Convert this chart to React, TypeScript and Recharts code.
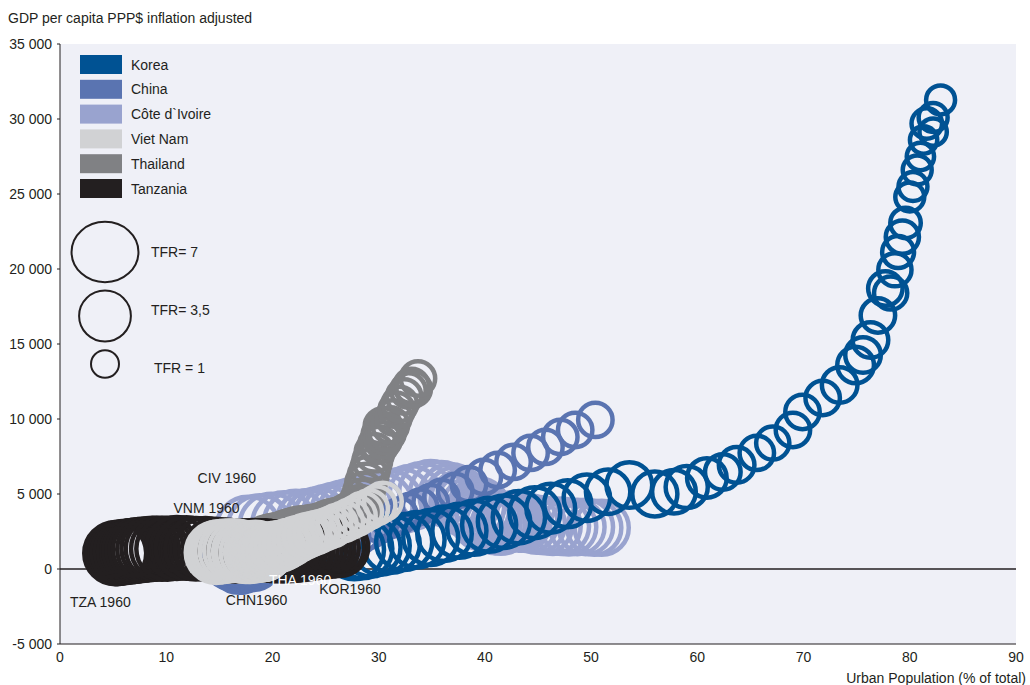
import React from 'react';
import {
  ScatterChart,
  Scatter,
  XAxis,
  YAxis,
  CartesianGrid,
  ReferenceLine,
  ReferenceDot,
} from 'recharts';

const W = 1030;
const H = 685;
const FONT = "'Liberation Sans', Arial, sans-serif";
const INK = '#231f20';
const RING = 4.5;

// legend order
const countryNames = ['Korea', 'China', 'Côte d`Ivoire', 'Viet Nam', 'Thailand', 'Tanzania'];
const countryColors = ['#005293', '#5a74b1', '#99a3cf', '#d1d2d4', '#808184', '#231f20'];
// back to front
const drawOrder = [2, 1, 0, 4, 5, 3];

// 1960 .. 2010, urban population %, GDP per capita, total fertility rate
const koreaUrban = [27.7, 28.5, 29.3, 30.2, 31.2, 32.4, 33.6, 34.9, 36.2, 37.6, 39.0, 40.4, 41.8, 43.2, 44.7, 46.2, 47.8, 49.6, 51.6, 53.6, 56.0, 57.8, 59.0, 60.9, 62.4, 63.7, 65.6, 67.1, 69.0, 69.9, 71.8, 73.4, 74.9, 75.6, 76.3, 77.0, 77.7, 78.6, 78.2, 78.9, 79.3, 79.6, 80.0, 80.3, 80.7, 81.0, 81.3, 81.6, 82.2, 82.2, 82.9];
const koreaGdp = [1300, 1350, 1450, 1550, 1650, 1800, 1950, 2100, 2350, 2550, 2750, 2950, 3150, 3450, 3750, 4050, 4350, 4750, 5150, 5600, 5000, 5150, 5470, 6070, 6470, 6940, 7740, 8400, 9270, 10470, 11400, 12270, 13600, 14270, 15270, 16900, 18700, 19950, 18400, 21130, 22130, 23070, 24800, 25500, 26600, 27500, 28600, 29700, 30100, 29130, 31270];
const koreaTfr = [6.0, 5.9, 5.7, 5.5, 5.2, 5.0, 4.8, 4.7, 4.6, 4.5, 4.5, 4.5, 4.1, 4.1, 3.8, 3.4, 3.1, 3.0, 2.7, 2.9, 2.8, 2.6, 2.4, 2.1, 1.7, 1.7, 1.6, 1.5, 1.6, 1.6, 1.6, 1.7, 1.8, 1.7, 1.7, 1.6, 1.6, 1.5, 1.5, 1.4, 1.5, 1.3, 1.2, 1.2, 1.2, 1.1, 1.1, 1.3, 1.2, 1.1, 1.2];

const chinaUrban = [16.2, 16.5, 16.8, 16.9, 17.5, 18.1, 17.9, 17.7, 17.6, 17.5, 17.4, 17.3, 17.2, 17.2, 17.3, 17.4, 17.5, 17.6, 17.9, 18.6, 19.4, 20.1, 21.1, 21.6, 22.2, 22.9, 23.6, 24.3, 25.0, 25.7, 26.4, 27.3, 28.2, 29.1, 30.1, 31.0, 32.0, 32.9, 33.9, 34.9, 35.9, 37.2, 38.5, 39.9, 41.2, 42.7, 44.3, 45.7, 47.1, 48.5, 50.4];
const chinaGdp = [600, 550, 520, 540, 580, 620, 660, 650, 630, 660, 720, 740, 760, 790, 800, 820, 810, 850, 900, 950, 1000, 1050, 1100, 1200, 1300, 1400, 1500, 1650, 1800, 1850, 1900, 2050, 2300, 2600, 2950, 3250, 3550, 3850, 4150, 4450, 4800, 5200, 5650, 6140, 6600, 7140, 7740, 8140, 8800, 9270, 9940];
const chinaTfr = [5.7, 4.0, 6.0, 7.5, 6.2, 6.4, 6.3, 5.3, 6.4, 5.8, 5.8, 5.4, 5.0, 4.5, 4.2, 3.6, 3.2, 2.8, 2.7, 2.8, 2.6, 2.6, 2.9, 2.4, 2.4, 2.6, 2.8, 2.7, 2.5, 2.4, 2.3, 2.0, 1.8, 1.7, 1.6, 1.6, 1.6, 1.6, 1.6, 1.6, 1.6, 1.6, 1.6, 1.6, 1.6, 1.6, 1.6, 1.6, 1.6, 1.6, 1.6];

const civUrban = [17.7, 18.8, 19.9, 21.1, 22.2, 23.4, 24.2, 25.0, 25.8, 26.6, 27.4, 28.3, 29.3, 30.2, 31.1, 32.1, 33.0, 34.0, 34.9, 35.9, 36.8, 37.3, 37.8, 38.3, 38.9, 39.4, 39.5, 39.5, 39.6, 39.6, 39.7, 40.1, 40.6, 41.0, 41.5, 41.9, 42.2, 42.5, 42.9, 43.2, 43.5, 44.2, 44.9, 45.6, 46.4, 47.2, 47.9, 48.7, 49.5, 50.3, 51.0];
const civGdp = [2700, 2800, 2900, 3000, 3100, 3150, 3250, 3400, 3550, 3700, 3850, 3950, 4100, 4250, 4400, 4550, 4750, 4950, 5100, 5050, 4900, 4700, 4500, 4250, 4100, 4000, 3900, 3750, 3600, 3450, 3300, 3200, 3100, 3000, 2950, 3050, 3150, 3200, 3250, 3200, 3100, 3050, 2950, 2900, 2850, 2850, 2800, 2800, 2800, 2750, 2750];
const civTfr = [7.4, 7.4, 7.4, 7.4, 7.4, 7.4, 7.4, 7.4, 7.4, 7.4, 7.4, 7.4, 7.4, 7.4, 7.3, 7.3, 7.3, 7.2, 7.2, 7.1, 7.1, 7.0, 6.9, 6.8, 6.7, 6.6, 6.5, 6.4, 6.3, 6.1, 6.0, 5.9, 5.8, 5.7, 5.6, 5.5, 5.4, 5.3, 5.2, 5.2, 5.1, 5.0, 5.0, 4.9, 4.9, 4.8, 4.7, 4.6, 4.6, 4.5, 4.5];

const vnmUrban = [14.7, 15.0, 15.3, 15.6, 16.0, 16.4, 16.8, 17.2, 17.5, 17.9, 18.3, 18.4, 18.5, 18.6, 18.7, 18.8, 18.9, 18.9, 19.0, 19.1, 19.2, 19.3, 19.4, 19.4, 19.5, 19.6, 19.7, 19.9, 20.0, 20.2, 20.3, 20.7, 21.1, 21.4, 21.8, 22.2, 22.6, 23.1, 23.5, 24.0, 24.4, 25.0, 25.6, 26.1, 26.7, 27.3, 27.9, 28.5, 29.1, 29.8, 30.4];
const vnmGdp = [1100, 1150, 1150, 1200, 1200, 1250, 1200, 1150, 1100, 1100, 1150, 1200, 1150, 1150, 1200, 1100, 1100, 1150, 1100, 1050, 1050, 1100, 1150, 1200, 1250, 1300, 1300, 1350, 1350, 1400, 1450, 1500, 1600, 1700, 1800, 1950, 2050, 2200, 2300, 2400, 2500, 2650, 2800, 3000, 3150, 3350, 3550, 3800, 4000, 4250, 4500];
const vnmTfr = [6.4, 6.4, 6.4, 6.4, 6.3, 6.2, 6.1, 6.0, 5.9, 5.8, 5.8, 5.7, 5.5, 5.4, 5.2, 5.0, 4.8, 4.6, 4.5, 4.4, 4.4, 4.3, 4.2, 4.1, 4.0, 3.9, 3.8, 3.7, 3.6, 3.5, 3.5, 3.4, 3.2, 3.1, 2.9, 2.7, 2.6, 2.5, 2.4, 2.3, 2.2, 2.1, 2.1, 2.0, 2.0, 2.0, 2.0, 2.0, 1.9, 1.9, 1.9];

const thaUrban = [19.7, 20.0, 20.3, 20.6, 20.9, 21.3, 21.6, 21.9, 22.2, 22.5, 22.9, 23.2, 23.5, 23.8, 24.1, 24.5, 24.8, 25.2, 25.6, 26.0, 26.4, 26.8, 27.1, 27.4, 27.7, 28.0, 28.2, 28.4, 28.6, 28.8, 29.0, 29.2, 29.4, 29.6, 29.9, 30.2, 30.4, 30.4, 30.1, 30.4, 30.6, 30.8, 31.1, 31.4, 31.7, 32.0, 32.4, 32.8, 33.1, 33.3, 33.7];
const thaGdp = [1500, 1550, 1600, 1650, 1700, 1800, 1900, 2000, 2050, 2150, 2200, 2250, 2300, 2400, 2450, 2500, 2650, 2800, 2950, 3050, 3150, 3300, 3450, 3600, 3800, 3950, 4150, 4600, 5100, 5700, 6200, 6700, 7200, 7750, 8300, 8900, 9500, 9200, 8300, 8600, 8900, 9100, 9600, 10100, 10600, 11000, 11500, 11900, 12200, 12000, 12700];
const thaTfr = [6.4, 6.4, 6.4, 6.3, 6.2, 6.1, 6.0, 5.8, 5.7, 5.5, 5.4, 5.1, 4.9, 4.6, 4.4, 4.1, 3.9, 3.7, 3.5, 3.3, 3.1, 2.9, 2.8, 2.6, 2.5, 2.4, 2.3, 2.2, 2.1, 2.1, 2.0, 1.9, 1.9, 1.9, 1.8, 1.8, 1.8, 1.8, 1.7, 1.7, 1.7, 1.7, 1.7, 1.6, 1.6, 1.6, 1.6, 1.6, 1.6, 1.6, 1.6];

const tzaUrban = [5.2, 5.4, 5.7, 5.9, 6.2, 6.5, 6.8, 7.0, 7.3, 7.6, 7.9, 8.3, 8.7, 9.1, 9.6, 10.1, 11.0, 11.9, 12.8, 13.7, 14.6, 15.1, 15.6, 16.0, 16.5, 17.0, 17.4, 17.8, 18.1, 18.5, 18.9, 19.3, 19.6, 20.0, 20.3, 20.7, 21.0, 21.3, 21.7, 22.0, 22.3, 22.7, 23.0, 23.4, 23.8, 24.2, 24.6, 25.0, 25.4, 25.9, 26.3];
const tzaGdp = [1050, 1050, 1100, 1100, 1150, 1150, 1200, 1200, 1250, 1250, 1300, 1300, 1350, 1350, 1350, 1350, 1400, 1400, 1350, 1350, 1300, 1250, 1250, 1200, 1200, 1200, 1200, 1200, 1250, 1250, 1250, 1250, 1200, 1200, 1150, 1150, 1150, 1150, 1150, 1150, 1200, 1200, 1250, 1250, 1300, 1350, 1350, 1400, 1400, 1450, 1450];
const tzaTfr = [6.8, 6.8, 6.8, 6.8, 6.8, 6.8, 6.8, 6.8, 6.8, 6.8, 6.8, 6.8, 6.8, 6.8, 6.8, 6.8, 6.8, 6.7, 6.7, 6.7, 6.7, 6.6, 6.6, 6.5, 6.5, 6.4, 6.4, 6.3, 6.3, 6.2, 6.2, 6.1, 6.0, 6.0, 5.9, 5.9, 5.8, 5.8, 5.7, 5.7, 5.7, 5.7, 5.6, 5.6, 5.6, 5.6, 5.6, 5.5, 5.5, 5.5, 5.4];

const urbanSeries = [koreaUrban, chinaUrban, civUrban, vnmUrban, thaUrban, tzaUrban];
const gdpSeries = [koreaGdp, chinaGdp, civGdp, vnmGdp, thaGdp, tzaGdp];
const tfrSeries = [koreaTfr, chinaTfr, civTfr, vnmTfr, thaTfr, tzaTfr];

const xTicks = [0, 10, 20, 30, 40, 50, 60, 70, 80, 90];
const yTicks = [-5000, 0, 5000, 10000, 15000, 20000, 25000, 30000, 35000];

// start-year annotations
const startLabels = ['TZA 1960', 'CHN1960', 'THA 1960', 'KOR1960', 'VNM 1960', 'CIV 1960'];
const startLabelX = [3.8, 18.5, 22.6, 27.3, 13.8, 15.7];
const startLabelY = [-2200, -2070, -730, -1330, 4070, 6070];
const startLabelColors = [INK, INK, '#ffffff', INK, INK, INK];

const tfrLegendValues = [7, 3.5, 1];
const tfrLegendText = ['TFR= 7', 'TFR= 3,5', 'TFR = 1'];

// outer radius of a bubble in px
const bubbleRadius = (tfr: number) => 15 + 9.5 * Math.log(tfr);

const fmt = (v: number) => String(v).replace(/\B(?=(\d{3})+(?!\d))/g, ' ');

const rows = (i: number) =>
  urbanSeries[i].map((x, k) => ({ x, y: gdpSeries[i][k], tfr: tfrSeries[i][k] }));

const ring = (color: string) => (props: any) => {
  const { cx, cy, payload } = props;
  if (cx == null || cy == null) return <g />;
  return (
    <circle
      cx={cx}
      cy={cy}
      r={bubbleRadius(payload.tfr) - RING / 2}
      fill="none"
      stroke={color}
      strokeWidth={RING}
    />
  );
};

function Legends() {
  return (
    <svg
      width={260}
      height={400}
      style={{ position: 'absolute', left: 0, top: 0, pointerEvents: 'none' }}
    >
      {countryNames.map((name, i) => (
        <g key={name}>
          <rect x={80} y={55 + i * 24.8} width={42} height={19} fill={countryColors[i]} />
          <text
            x={131}
            y={64.5 + i * 24.8}
            dominantBaseline="central"
            fontSize={14}
            fontFamily={FONT}
            fill={INK}
          >
            {name}
          </text>
        </g>
      ))}
      {tfrLegendValues.map((v, i) => {
        const cy = [252, 316, 364][i];
        const r = bubbleRadius(v) - 1;
        return (
          <g key={v}>
            <ellipse
              cx={105}
              cy={cy}
              rx={r * (i === 0 ? 1.03 : 1)}
              ry={r * (i === 0 ? 0.93 : 0.98)}
              fill="none"
              stroke={INK}
              strokeWidth={2}
            />
            <text
              x={i === 2 ? 154 : 151}
              y={[252, 310, 368][i]}
              dominantBaseline="central"
              fontSize={14}
              fontFamily={FONT}
              fill={INK}
            >
              {tfrLegendText[i]}
            </text>
          </g>
        );
      })}
    </svg>
  );
}

export default function App() {
  const tick = { fontSize: 14, fontFamily: FONT, fill: INK };
  return (
    <div
      style={{
        position: 'absolute',
        left: 0,
        top: 0,
        width: W,
        height: H,
        background: '#ffffff',
        fontFamily: FONT,
      }}
    >
      <ScatterChart width={W} height={H} margin={{ top: 44, right: 14, bottom: 0, left: 0 }}>
        <CartesianGrid horizontal={false} vertical={false} fill="#eff0f7" stroke="none" />
        <XAxis
          type="number"
          dataKey="x"
          domain={[0, 90]}
          ticks={xTicks}
          tick={tick}
          tickLine={false}
          axisLine={{ stroke: INK }}
          height={41}
          interval={0}
          allowDataOverflow
          label={{
            value: 'Urban Population (% of total)',
            position: 'insideBottomRight',
            offset: 2,
            dx: 12,
            fontSize: 14,
            fontFamily: FONT,
            fill: INK,
          }}
        />
        <XAxis
          xAxisId="top"
          orientation="top"
          type="number"
          domain={[0, 90]}
          tick={false}
          tickLine={false}
          axisLine={{ stroke: INK }}
          height={0}
        />
        <YAxis
          type="number"
          dataKey="y"
          domain={[-5000, 35000]}
          ticks={yTicks}
          tick={tick}
          tickFormatter={fmt}
          tickSize={3}
          tickMargin={5}
          tickLine={{ stroke: INK }}
          axisLine={{ stroke: INK }}
          width={60}
          interval={0}
          allowDataOverflow
          label={{
            content: () => (
              <text x={8} y={18} dominantBaseline="central" fontSize={14} fontFamily={FONT} fill={INK}>
                GDP per capita PPP$ inflation adjusted
              </text>
            ),
          }}
        />
        <YAxis
          yAxisId="right"
          orientation="right"
          type="number"
          domain={[-5000, 35000]}
          tick={false}
          tickLine={false}
          axisLine={{ stroke: INK }}
          width={0}
        />
        {drawOrder.map((i) => (
          <Scatter
            key={countryNames[i]}
            name={countryNames[i]}
            data={rows(i)}
            fill={countryColors[i]}
            shape={ring(countryColors[i])}
            isAnimationActive={false}
          />
        ))}
        <ReferenceLine y={0} stroke={INK} strokeWidth={1.4} />
        {startLabels.map((t, i) => (
          <ReferenceDot
            key={t}
            x={startLabelX[i]}
            y={startLabelY[i]}
            r={0}
            fill="none"
            stroke="none"
            label={{
              value: t,
              position: 'center',
              fontSize: 14,
              fontFamily: FONT,
              fill: startLabelColors[i],
            }}
          />
        ))}
      </ScatterChart>
      <Legends />
    </div>
  );
}
